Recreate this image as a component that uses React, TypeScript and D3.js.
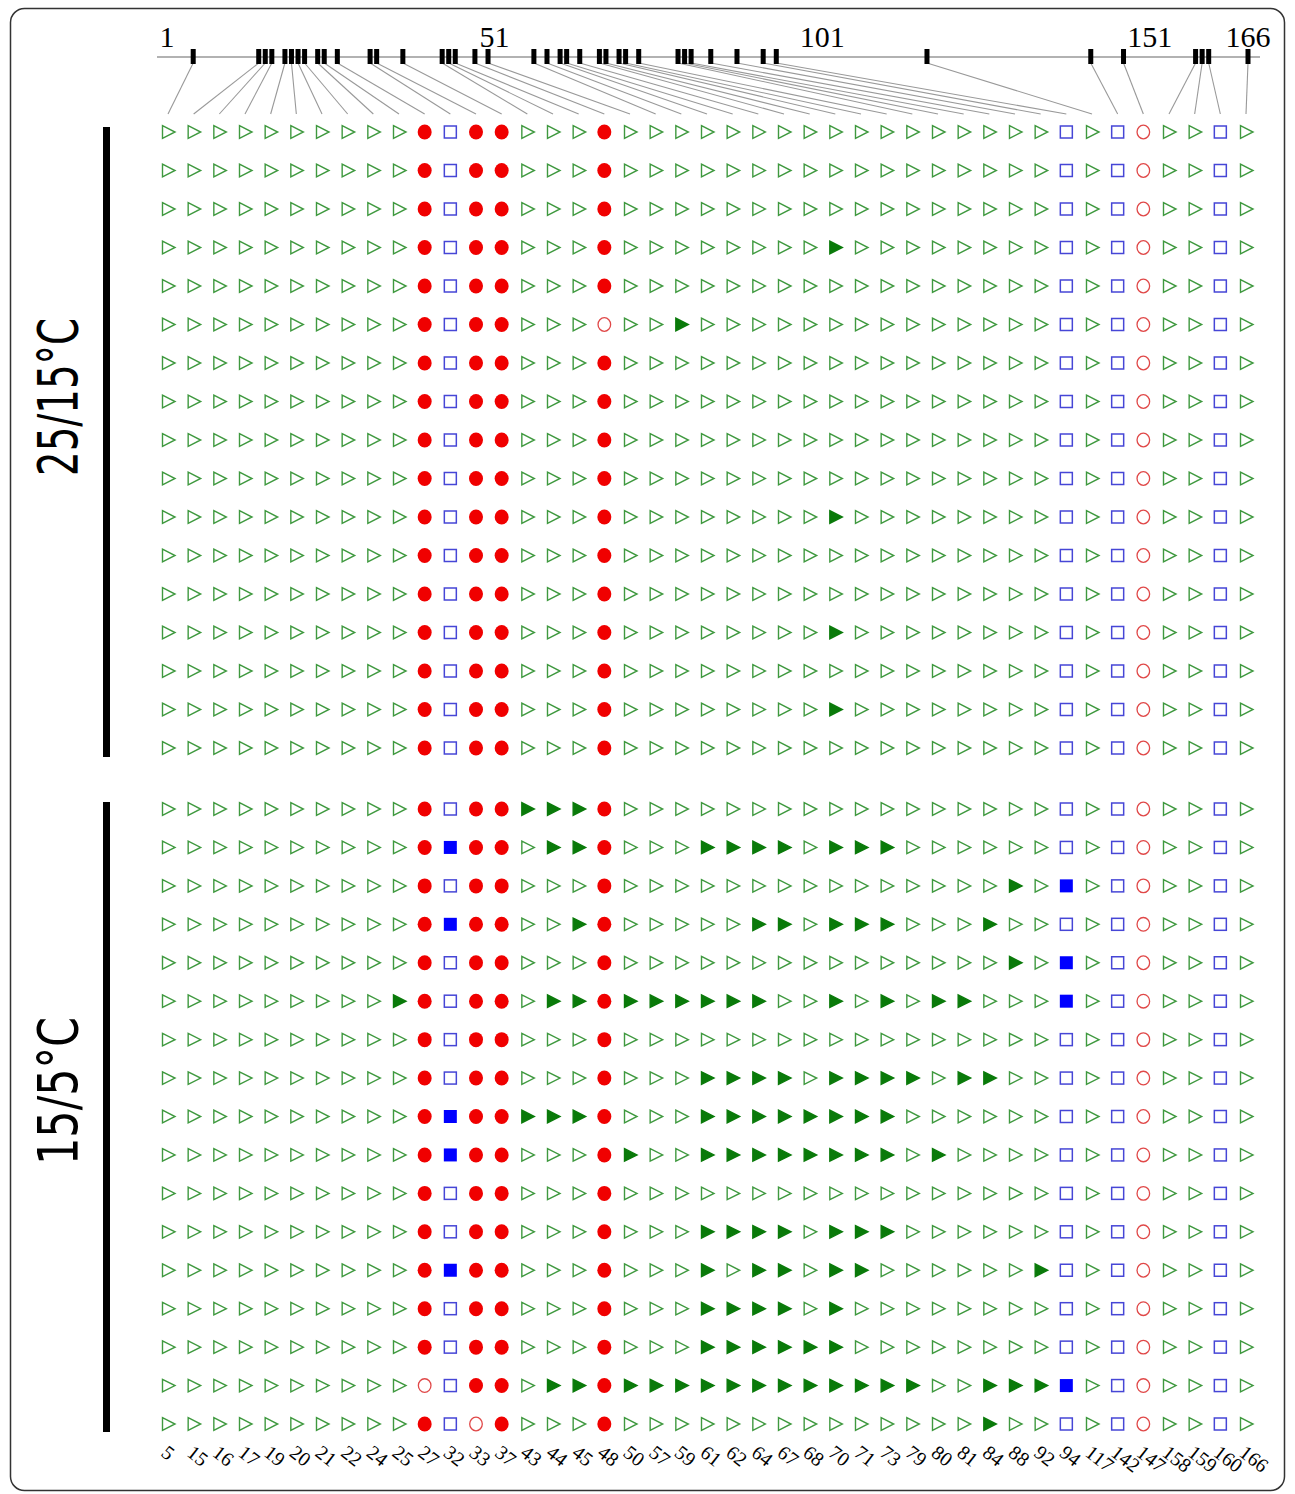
import React, { useEffect, useRef } from 'react';
import * as d3 from 'd3';

const width = 1295;
const height = 1494;

// marker positions along the map (1..166), also used as column labels
const markers = [5, 15, 16, 17, 19, 20, 21, 22, 24, 25, 27, 32, 33, 37, 43, 44, 45, 48, 50, 57, 59, 61, 62, 64, 67, 68, 70, 71, 73, 79, 80, 81, 84, 88, 92, 94, 117, 142, 147, 158, 159, 160, 166];

// base symbol of a marker column; everything else is a triangle
const circleMarkers = [27, 33, 37, 48];
const squareMarkers = [32, 94, 142, 160];
const openCircleMarkers = [147];

const axisTicks = [1, 51, 101, 151, 166];

// markers that differ from the base symbol, one list per line
const highTempRows = [
    [], [], [], [70], [], [48, 59], [], [], [], [], [70], [], [], [70], [], [70], []
];
const lowTempRows = [
    [43, 44, 45],
    [32, 44, 45, 61, 62, 64, 67, 70, 71, 73],
    [88, 94],
    [32, 45, 64, 67, 70, 71, 73, 84],
    [88, 94],
    [25, 44, 45, 50, 57, 59, 61, 62, 64, 70, 73, 80, 81, 94],
    [],
    [61, 62, 64, 67, 70, 71, 73, 79, 81, 84],
    [32, 43, 44, 45, 61, 62, 64, 67, 68, 70, 71, 73],
    [32, 50, 61, 62, 64, 67, 68, 70, 71, 73, 80],
    [],
    [61, 62, 64, 67, 70, 71, 73],
    [32, 61, 64, 67, 70, 71, 92],
    [61, 62, 64, 67, 70],
    [61, 62, 64, 67, 68, 70],
    [27, 44, 45, 50, 57, 59, 61, 62, 64, 67, 68, 70, 71, 73, 79, 84, 88, 92, 94],
    [33, 84]
];

const groups = [
    { label: '25/15°C', rows: highTempRows, y0: 132, y1: 748, barTop: 127, barBottom: 757, labelY: 397, labelLen: 158 },
    { label: '15/5°C', rows: lowTempRows, y0: 809, y1: 1424, barTop: 802, barBottom: 1432, labelY: 1091, labelLen: 148 }
];

function baseType(m) {
    if (circleMarkers.includes(m)) return 'circle';
    if (squareMarkers.includes(m)) return 'square';
    if (openCircleMarkers.includes(m)) return 'ocircle';
    return 'tri';
}

function drawChart(el) {
    const svg = d3.select(el);
    svg.selectAll('*').remove();

    // frame
    svg.append('rect')
        .attr('x', 10.5).attr('y', 8.5)
        .attr('width', 1274).attr('height', 1482)
        .attr('rx', 14)
        .attr('fill', 'white')
        .attr('stroke', '#333')
        .attr('stroke-width', 1.5);

    const pos = d3.scaleLinear().domain([1, 166]).range([167, 1248]);
    const x = d3.scalePoint().domain(markers.map(String)).range([168, 1246]);

    // map axis
    svg.append('line')
        .attr('x1', 157).attr('x2', 1260)
        .attr('y1', 57).attr('y2', 57)
        .attr('stroke', '#999').attr('stroke-width', 1.5);

    svg.selectAll('.link').data(markers).enter().append('line')
        .attr('x1', d => pos(d)).attr('y1', 63)
        .attr('x2', d => x(String(d))).attr('y2', 114)
        .attr('stroke', '#999').attr('stroke-width', 1.1);

    svg.selectAll('.tick').data(markers).enter().append('rect')
        .attr('x', d => pos(d) - 2.5).attr('y', 49)
        .attr('width', 5).attr('height', 15)
        .attr('fill', 'black');

    svg.selectAll('.ticklab').data(axisTicks).enter().append('text')
        .attr('x', d => pos(d)).attr('y', 47)
        .attr('text-anchor', 'middle')
        .style('font-family', '"Liberation Serif", serif')
        .style('font-size', '30px')
        .text(d => d);

    groups.forEach(g => {
        const y = d3.scalePoint().domain(d3.range(g.rows.length).map(String)).range([g.y0, g.y1]);

        svg.append('rect')
            .attr('x', 103).attr('y', g.barTop)
            .attr('width', 7).attr('height', g.barBottom - g.barTop)
            .attr('fill', 'black');

        svg.append('text')
            .attr('transform', 'translate(77,' + g.labelY + ') rotate(-90)')
            .attr('text-anchor', 'middle')
            .attr('textLength', g.labelLen)
            .attr('lengthAdjust', 'spacingAndGlyphs')
            .style('font-family', '"DejaVu Sans", sans-serif')
            .style('font-size', '56px')
            .text(g.label);

        const cells = [];
        g.rows.forEach((changed, r) => {
            markers.forEach(m => {
                cells.push({ m, r, type: baseType(m), alt: changed.includes(m) });
            });
        });

        const cell = svg.append('g').selectAll('g').data(cells).enter().append('g')
            .attr('transform', d => 'translate(' + x(String(d.m)) + ',' + y(String(d.r)) + ')');

        cell.each(function (d) {
            const s = d3.select(this);
            if (d.type === 'tri') {
                s.append('path')
                    .attr('d', 'M-5.5,-6.3L7,0L-5.5,6.3Z')
                    .attr('fill', d.alt ? '#0a7a0a' : 'none')
                    .attr('stroke', d.alt ? '#0a7a0a' : '#3f993f')
                    .attr('stroke-width', 1.4);
            } else if (d.type === 'square') {
                if (d.alt) {
                    s.append('rect').attr('x', -6.5).attr('y', -6.5).attr('width', 13).attr('height', 13)
                        .attr('fill', '#0000ff');
                } else {
                    s.append('rect').attr('x', -6).attr('y', -6).attr('width', 12).attr('height', 12)
                        .attr('fill', 'none').attr('stroke', '#4646d6').attr('stroke-width', 1.5);
                }
            } else if (d.type === 'circle' && !d.alt) {
                s.append('ellipse').attr('rx', 7).attr('ry', 7.5).attr('fill', '#f00000');
            } else {
                s.append('ellipse').attr('rx', 6.3).attr('ry', 6.8)
                    .attr('fill', 'none').attr('stroke', '#e04848').attr('stroke-width', 1.3);
            }
        });
    });

    // column labels
    svg.selectAll('.collab').data(markers).enter().append('text')
        .attr('transform', d => 'translate(' + (x(String(d)) - 8) + ',1455) rotate(38)')
        .style('font-family', '"Liberation Serif", serif')
        .style('font-size', '20px')
        .text(d => d);
}

export default function App() {
    const ref = useRef(null);
    useEffect(() => {
        drawChart(ref.current);
    }, []);
    return (
        <svg ref={ref} width={width} height={height}
            style={{ position: 'absolute', left: 0, top: 0, background: 'white' }} />
    );
}
